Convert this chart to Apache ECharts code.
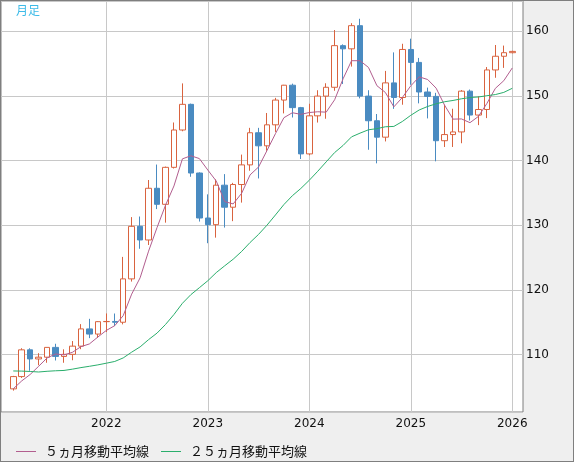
<!DOCTYPE html>
<html>
<head>
<meta charset="utf-8">
<script src="https://cdn.jsdelivr.net/npm/echarts@6/dist/echarts.min.js"></script>
<style>
html,body{margin:0;padding:0;background:#efefef;}
#wrap{width:574px;height:462px;box-sizing:border-box;border:1px solid #7f7f7f;background:#efefef;}
#chart{width:572px;height:460px;}
</style>
</head>
<body>
<div id="wrap"><div id="chart"></div></div>
<script>
// Monthly candles, Feb 2021 .. Jan 2026
const months = ['2021-02','2021-03','2021-04','2021-05','2021-06','2021-07','2021-08','2021-09','2021-10','2021-11','2021-12',
'2022-01','2022-02','2022-03','2022-04','2022-05','2022-06','2022-07','2022-08','2022-09','2022-10','2022-11','2022-12',
'2023-01','2023-02','2023-03','2023-04','2023-05','2023-06','2023-07','2023-08','2023-09','2023-10','2023-11','2023-12',
'2024-01','2024-02','2024-03','2024-04','2024-05','2024-06','2024-07','2024-08','2024-09','2024-10','2024-11','2024-12',
'2025-01','2025-02','2025-03','2025-04','2025-05','2025-06','2025-07','2025-08','2025-09','2025-10','2025-11','2025-12',
'2026-01'];
const openV = [104.68,106.58,110.72,109.31,109.58,111.10,109.70,110.02,111.29,113.96,113.16,
115.08,115.11,114.99,121.70,129.83,127.72,135.72,133.24,138.96,144.74,148.71,138.08,
131.12,130.09,136.20,132.79,136.30,139.34,144.31,142.29,145.54,149.37,151.67,148.20,
141.04,146.93,149.98,151.35,157.79,157.30,160.88,149.98,146.17,143.63,152.03,149.77,
157.20,155.20,150.62,149.94,143.08,144.03,144.44,150.75,147.05,147.91,154.03,156.15,
156.70];
const closeV = [106.58,110.72,109.31,109.58,111.10,109.70,110.02,111.29,113.96,113.16,115.08,
115.11,114.99,121.70,129.83,127.72,135.72,133.24,138.96,144.74,148.71,138.08,131.12,
130.09,136.20,132.79,136.30,139.34,144.31,142.29,145.54,149.37,151.67,148.20,141.04,
146.93,149.98,151.35,157.79,157.30,160.88,149.98,146.17,143.63,152.03,149.77,157.20,
155.20,150.62,149.94,143.08,144.03,144.44,150.75,147.05,147.91,154.03,156.15,156.70,
156.90];
const lowV = [104.41,106.37,107.48,108.34,108.72,109.07,108.72,109.11,110.82,112.53,112.56,
113.47,114.40,114.66,121.28,126.36,126.94,132.50,130.40,138.78,144.54,137.50,130.57,
127.22,128.08,129.64,130.63,133.50,138.43,137.24,141.52,144.44,147.31,146.67,140.25,
140.82,145.89,146.48,150.81,151.86,154.55,149.63,141.68,139.58,142.97,148.01,148.65,
151.74,148.86,146.53,139.89,142.11,142.11,142.69,146.21,145.49,146.58,152.82,154.35,
156.60];
const highV = [106.69,110.97,110.96,110.20,111.11,111.66,110.80,112.08,114.70,115.52,115.16,
116.35,116.34,125.10,131.26,131.35,137.00,139.39,139.08,145.90,151.95,148.82,138.18,
134.78,137.10,137.91,136.56,140.93,145.07,145.07,147.37,149.71,151.72,151.91,148.31,
148.80,150.89,151.97,160.21,157.99,161.27,161.95,150.89,147.21,153.88,156.75,158.08,
158.87,155.89,151.30,150.49,148.65,148.03,150.92,151.00,149.95,154.48,157.89,157.80,
157.00];
const ma5 = [104.69,105.91,106.91,108.17,109.46,110.08,109.94,110.34,111.21,111.63,112.70,
113.72,114.46,116.01,119.34,121.87,125.99,129.64,133.09,136.08,140.27,140.75,140.32,
138.55,136.84,133.66,133.30,134.94,137.79,139.01,141.56,144.17,146.64,147.41,147.16,
147.44,147.56,147.50,149.42,152.67,155.46,155.46,154.42,151.59,150.54,148.32,149.76,
151.57,152.96,152.55,151.21,148.57,146.42,146.45,145.87,146.84,148.84,151.18,152.37,
154.34];
const ma25 = [107.45,107.43,107.37,107.29,107.40,107.48,107.53,107.73,107.97,108.17,108.39,
108.65,108.92,109.47,110.36,111.18,112.30,113.31,114.64,116.19,117.92,119.26,120.33,
121.41,122.67,123.72,124.74,125.94,127.33,128.58,130.01,131.59,133.20,134.57,135.69,
136.96,138.35,139.81,141.25,142.35,143.68,144.25,144.77,144.95,145.24,145.29,146.05,
147.01,147.84,148.38,148.80,149.11,149.31,149.57,149.76,149.85,150.04,150.22,150.56,
151.19];
const yearLabels = ['2022','2023','2024','2025','2026'];
const seriesNames = ['５ヵ月移動平均線','２５ヵ月移動平均線'];
const periodLabel = '月足';

const yearIdx = yearLabels.map(y => months.indexOf(y + '-01'));
const candleData = months.map((m, i) => [i, openV[i], closeV[i], lowV[i], highV[i]]);
const ma5Data = months.map((m, i) => [i, ma5[i]]);
const ma25Data = months.map((m, i) => [i, ma25[i]]);

const chart = echarts.init(document.getElementById('chart'), null, {renderer: 'canvas'});
const FONT = '"Noto Sans CJK JP", "DejaVu Sans", sans-serif';
const NUMFONT = '"DejaVu Sans", sans-serif';
chart.setOption({
  animation: false,
  backgroundColor: '#efefef',
  title: {
    text: periodLabel, left: 15, top: 3, padding: 0,
    textStyle: {fontSize: 12, fontWeight: 'normal', color: '#3dbbe8', fontFamily: FONT}
  },
  legend: {
    left: 10, top: 439, itemGap: 12, itemWidth: 20, itemHeight: 1,
    icon: 'rect',
    data: seriesNames,
    textStyle: {fontSize: 13, color: '#111', fontFamily: FONT, padding: [0, 0, 0, 4]}
  },
  grid: {
    left: 0, top: 0, right: 50, bottom: 49,
    show: true, backgroundColor: '#ffffff', borderColor: '#7f7f7f', borderWidth: 1
  },
  xAxis: {
    type: 'value',
    min: -1.45, max: 60.27,
    axisLine: {show: false},
    axisTick: {show: false, customValues: yearIdx},
    axisLabel: {
      customValues: yearIdx, margin: 6, fontSize: 12, color: '#111', fontFamily: NUMFONT,
      formatter: v => yearLabels[yearIdx.indexOf(Math.round(v))] || ''
    },
    splitLine: {show: true, lineStyle: {color: '#c8c8c8', width: 1}}
  },
  yAxis: {
    type: 'value', position: 'right',
    min: 101.1, max: 164.7, splitNumber: 5,
    axisLine: {show: false}, axisTick: {show: false},
    axisLabel: {margin: 3, fontSize: 12, color: '#111', fontFamily: NUMFONT, showMinLabel: false, showMaxLabel: false},
    splitLine: {show: true, lineStyle: {color: '#c8c8c8', width: 1}}
  },
  series: [
    {
      type: 'candlestick', name: 'candle', data: candleData,
      encode: {x: 0, y: [1, 2, 3, 4]},
      barWidth: 6, z: 2,
      itemStyle: {
        color: '#ffffff', color0: '#4a8bc1',
        borderColor: '#d9633f', borderColor0: '#4a8bc1', borderWidth: 1
      }
    },
    {
      type: 'line', name: seriesNames[0], data: ma5Data, z: 3,
      showSymbol: false, symbol: 'none', color: '#b25e8f',
      lineStyle: {width: 1, color: '#b25e8f'}
    },
    {
      type: 'line', name: seriesNames[1], data: ma25Data, z: 3,
      showSymbol: false, symbol: 'none', color: '#2aae6c',
      lineStyle: {width: 1, color: '#2aae6c'}
    }
  ]
});
</script>
</body>
</html>
